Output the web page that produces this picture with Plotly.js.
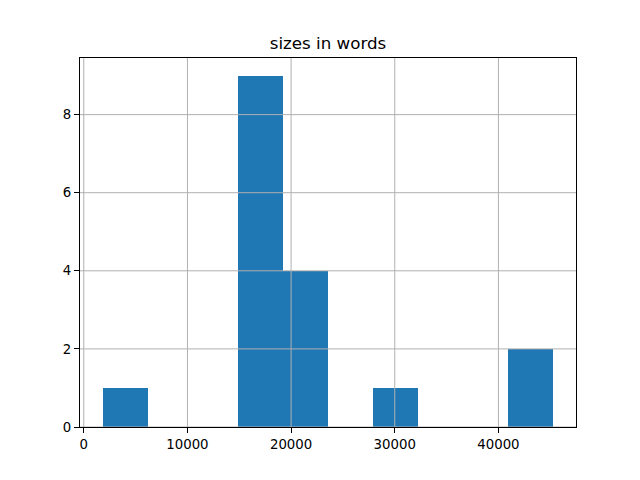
<!DOCTYPE html>
<html>
<head>
<meta charset="utf-8">
<script src="https://cdn.plot.ly/plotly-3.0.1.min.js"></script>
<style>html,body{margin:0;padding:0;background:#fff;}#chart{width:640px;height:480px;}</style>
</head>
<body>
<div id="chart"></div>
<script>
// Histogram of document sizes (words), 10 bins
const binEdges = [1810, 6160, 10510, 14860, 19210, 23560, 27910, 32260, 36610, 40960, 45310];
const counts = [1, 0, 0, 9, 4, 0, 1, 0, 0, 2];
const xTicks = [0, 10000, 20000, 30000, 40000];
const yTicks = [0, 2, 4, 6, 8];
const titleText = 'sizes in words';

const centers = counts.map((c, i) => (binEdges[i] + binEdges[i + 1]) / 2);
const widths = counts.map((c, i) => binEdges[i + 1] - binEdges[i]);

const lo = binEdges[0], hi = binEdges[binEdges.length - 1];
const pad = (hi - lo) * 0.05;
const yMax = Math.max(...counts) * 1.05;

const gridColor = '#b0b0b0';
const shapes = [];
xTicks.forEach(v => shapes.push({type: 'line', xref: 'x', yref: 'paper', x0: v, x1: v, y0: 0, y1: 1,
  line: {color: gridColor, width: 1}, layer: 'above'}));
yTicks.forEach(v => shapes.push({type: 'line', xref: 'paper', yref: 'y', x0: 0, x1: 1, y0: v, y1: v,
  line: {color: gridColor, width: 1}, layer: 'above'}));

const trace = {
  type: 'bar',
  x: centers,
  y: counts,
  width: widths,
  marker: {color: '#1f77b4', line: {width: 0}},
  hoverinfo: 'x+y'
};

const axisCommon = {
  showline: true, mirror: true, linecolor: '#000', linewidth: 1,
  ticks: 'outside', ticklen: 5, tickwidth: 1, tickcolor: '#000',
  showgrid: false, zeroline: false,
  tickfont: {family: 'DejaVu Sans', size: 13.3, color: '#000'}
};

const layout = {
  width: 640, height: 480,
  margin: {l: 80, r: 64, t: 58, b: 53},
  paper_bgcolor: '#fff', plot_bgcolor: '#fff',
  showlegend: false,
  bargap: 0,
  title: {text: titleText, font: {family: 'DejaVu Sans', size: 16.7, color: '#000'},
    x: 0.5, xref: 'paper', xanchor: 'center', y: 1, yref: 'paper', yanchor: 'bottom', pad: {b: 9}},
  xaxis: Object.assign({}, axisCommon, {range: [lo - pad, hi + pad], tickvals: xTicks, ticktext: xTicks.map(String)}),
  yaxis: Object.assign({}, axisCommon, {range: [0, yMax], tickvals: yTicks, ticktext: yTicks.map(String)}),
  shapes: shapes
};

Plotly.newPlot('chart', [trace], layout, {displayModeBar: false, staticPlot: true});
</script>
</body>
</html>
